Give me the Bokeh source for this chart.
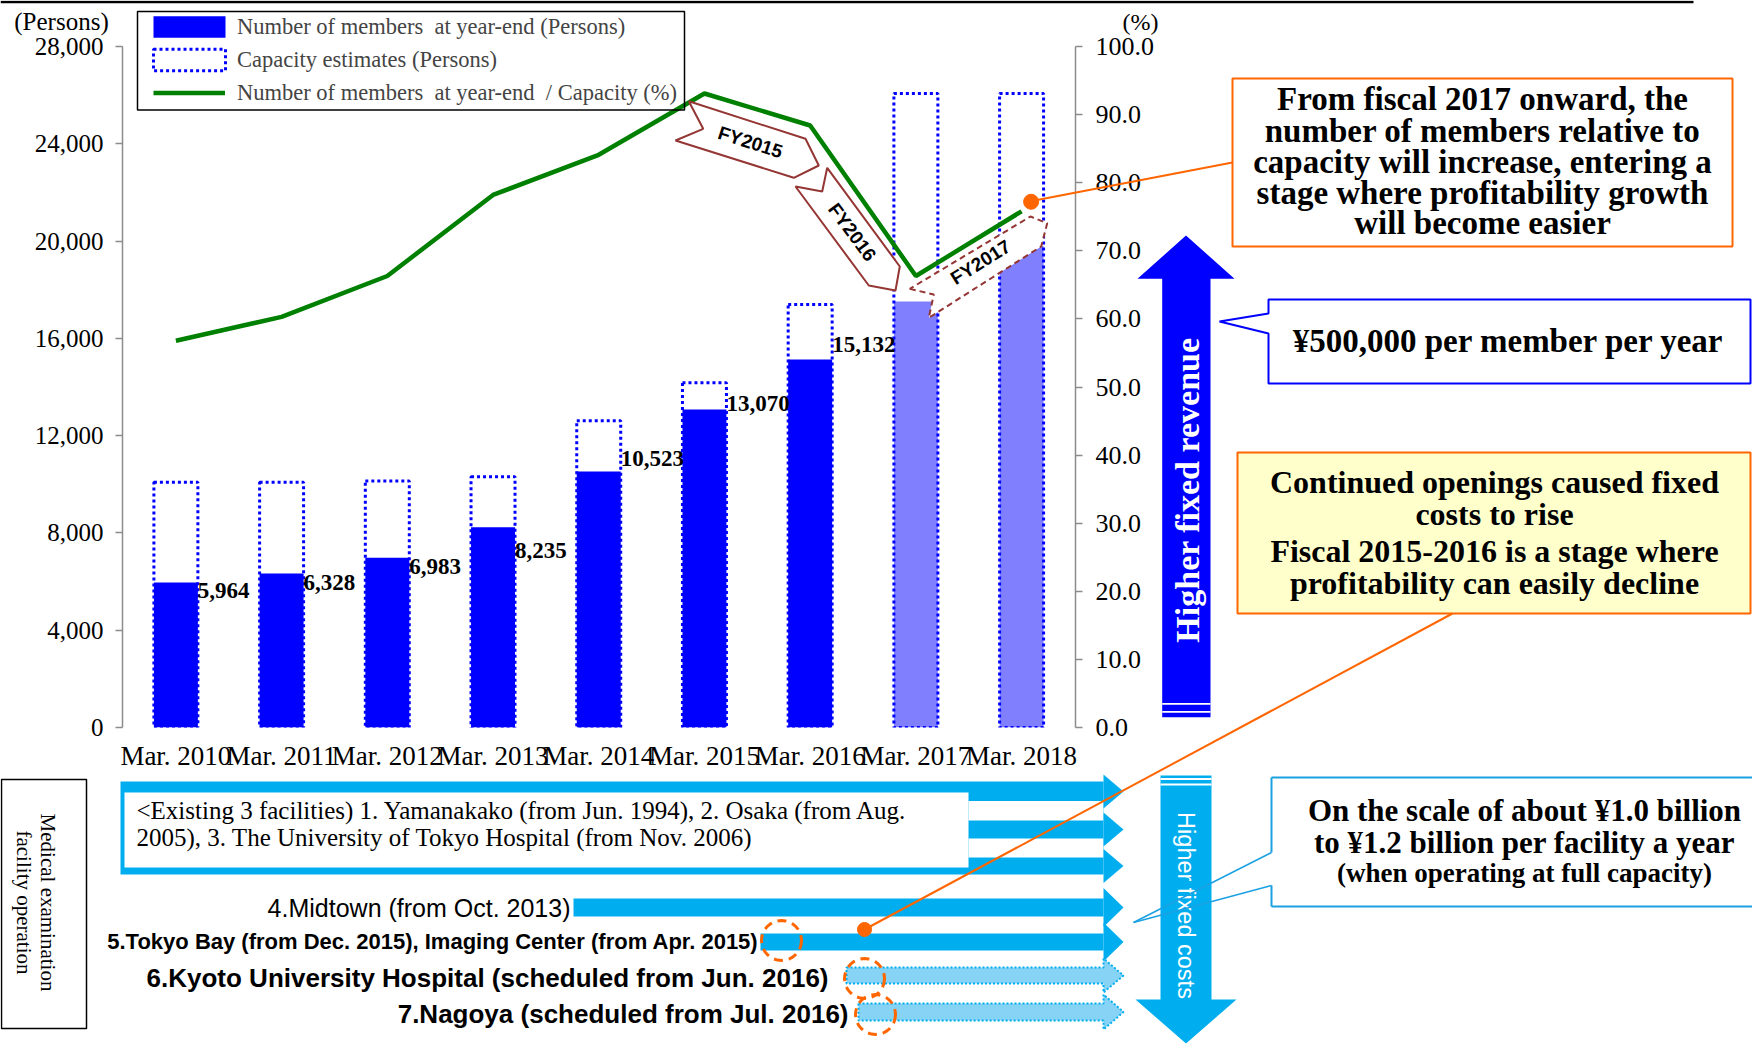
import math
from bokeh.plotting import figure
from bokeh.models import (Range1d, LinearAxis, FixedTicker, NumeralTickFormatter,
                          Legend, LegendItem, ColumnDataSource)
from bokeh.embed import file_html
from bokeh.resources import INLINE
from bokeh.core.properties import value

# ---------------- data ----------------
categories = ["Mar. 2010", "Mar. 2011", "Mar. 2012", "Mar. 2013", "Mar. 2014",
              "Mar. 2015", "Mar. 2016", "Mar. 2017", "Mar. 2018"]
members = [5964, 6328, 6983, 8235, 10523, 13070, 15132, 17520, 19800]
capacity = [10080, 10080, 10130, 10310, 12610, 14170, 17390, 26070, 26070]
ratio_pct = [56.8, 60.3, 66.3, 78.2, 84.1, 93.1, 88.4, 66.3, 75.8]
is_forecast = [False, False, False, False, False, False, False, True, True]
label_dy = [8, 9, 9, 23, -13, -6, -15]          # label nudges (px, down +)
left_ticks = [0, 4000, 8000, 12000, 16000, 20000, 24000, 28000]
right_ticks = [0, 10, 20, 30, 40, 50, 60, 70, 80, 90, 100]

legend_labels = ["Number of members  at year-end (Persons)",
                 "Capacity estimates (Persons)",
                 "Number of members  at year-end  / Capacity (%)"]

# ---------------- layout constants ----------------
W, H = 1752, 1044
FL, FR, FT, FB = 122, 1075, 8, 727
Y0, Y28 = 726.7, 45.7                       # pixel rows of 0 and 28,000
PER_PX = 28000 / (Y0 - Y28)
Y_END = (FB - FT) * PER_PX
P_END = 100 * (FB - FT) / (Y0 - Y28)
BW = 0.416
BLUE = "#0000FF"
LIGHT = "#8080FF"
GREEN = "#008000"
ORANGE = "#FF6600"
BROWN = "#943634"
LB = "#00AEEF"
GRAY = "#8c8c8c"
SERIF = "Liberation Serif"
SANS = "Liberation Sans"

# ---------------- chart figure ----------------
p = figure(width=W, height=H, output_backend="svg", toolbar_location=None, title=None,
           x_range=Range1d(-0.505, 8.51), y_range=Range1d(0, Y_END),
           min_border_left=FL, min_border_right=W - FR, min_border_top=FT,
           min_border_bottom=H - FB, outline_line_color=None,
           background_fill_color="white", border_fill_color="white")
p.xgrid.visible = False
p.ygrid.visible = False
p.extra_y_ranges = {"pct": Range1d(0, P_END)}


def style_axis(ax, size):
    ax.axis_line_color = GRAY
    ax.axis_line_width = 1.5
    ax.major_tick_line_color = GRAY
    ax.major_tick_line_width = 1.5
    ax.major_tick_out = 7
    ax.major_tick_in = 0
    ax.minor_tick_line_color = None
    ax.major_label_text_font = SERIF
    ax.major_label_text_font_size = size
    ax.major_label_text_color = "black"


ya = p.yaxis[0]
style_axis(ya, "25px")
ya.ticker = FixedTicker(ticks=left_ticks)
ya.formatter = NumeralTickFormatter(format="0,0")
ya.major_label_standoff = 12
ya.bounds = (0, 28000)

xa = p.xaxis[0]
style_axis(xa, "27px")
xa.ticker = FixedTicker(ticks=list(range(len(categories))))
xa.major_label_overrides = {i: c for i, c in enumerate(categories)}
xa.axis_line_color = None
xa.major_tick_line_color = None
xa.major_label_standoff = 6

ra = LinearAxis(y_range_name="pct", ticker=FixedTicker(ticks=right_ticks),
                formatter=NumeralTickFormatter(format="0.0"), bounds=(0, 100))
style_axis(ra, "26px")
ra.major_label_standoff = 13
p.add_layout(ra, "right")

idx = list(range(len(categories)))
src = ColumnDataSource(dict(
    x=idx, members=members, capacity=capacity, ratio=ratio_pct,
    color=[LIGHT if f else BLUE for f in is_forecast]))

r_bar = p.vbar(x="x", top="members", width=BW, fill_color="color", line_color=None, source=src)
r_cap = p.vbar(x="x", top="capacity", width=BW, fill_color=None, line_color=BLUE,
               line_width=3, line_dash="3 3", source=src)
r_line = p.line(x="x", y="ratio", line_color=GREEN, line_width=4.5, y_range_name="pct", source=src)

actual = [i for i, f in enumerate(is_forecast) if not f]
lab_src = ColumnDataSource(dict(
    x=[i + BW / 2 for i in actual],
    y=[members[i] for i in actual],
    t=[f"{members[i]:,}" for i in actual],
    dy=label_dy))
p.text(x="x", y="y", text="t", y_offset="dy", source=lab_src,
       text_font=value(SERIF), text_font_style="bold", text_font_size="23px",
       text_align="left", text_baseline="middle", text_color="black")

p.scatter(x=[len(categories) - 1 + 0.09], y=[ratio_pct[-1] + 1.4], size=15,
          fill_color=ORANGE, line_color=ORANGE, y_range_name="pct")

legend_bars = Legend(items=[LegendItem(label=legend_labels[0], renderers=[r_bar], index=0),
                            LegendItem(label=legend_labels[1], renderers=[r_cap], index=0)],
                     location=(22, 654), orientation="vertical", padding=3, spacing=6, margin=0,
                     glyph_width=90, glyph_height=27, label_height=27, label_standoff=3,
                     label_text_font=SERIF, label_text_font_size="22.5px",
                     border_line_color=None, background_fill_alpha=0.0)
legend_line = Legend(items=[LegendItem(label=legend_labels[2], renderers=[r_line])],
                     location=(31, 621), orientation="vertical", padding=3, spacing=0, margin=0,
                     glyph_width=72, glyph_height=27, label_height=27, label_standoff=12,
                     label_text_font=SERIF, label_text_font_size="22.5px",
                     border_line_color=None, background_fill_alpha=0.0)
p.add_layout(legend_bars)
p.add_layout(legend_line)

# ---------------- overlay figure (page-pixel coordinates) ----------------
o = figure(width=W, height=H, output_backend="svg", toolbar_location=None, title=None,
           x_range=Range1d(0, W), y_range=Range1d(H, 0), x_axis_type=None, y_axis_type=None,
           min_border=0, min_border_left=0, min_border_right=0, min_border_top=0,
           min_border_bottom=0, outline_line_color=None,
           background_fill_alpha=0.0, border_fill_alpha=0.0)
o.margin = (-H, 0, 0, 0)


def poly(xs, ys, fill=None, line=None, lw=1.0, dash="solid"):
    o.patch(x=list(xs), y=list(ys),
            fill_color=fill if fill else "white", fill_alpha=1.0 if fill else 0.0,
            line_color=line if line else "white", line_alpha=1.0 if line else 0.0,
            line_width=lw, line_dash=dash)


def rect(x0, y0, x1, y1, fill=None, line=None, lw=1.0, dash="solid"):
    poly([x0, x1, x1, x0], [y0, y0, y1, y1], fill, line, lw, dash)


def seg(x0, y0, x1, y1, color, lw, dash="solid"):
    o.line(x=[x0, x1], y=[y0, y1], line_color=color, line_width=lw, line_dash=dash)


def txt(x, y, s, size, font=SERIF, style="normal", color="black", align="center", angle=0.0):
    o.text(x=[x], y=[y], text=[s], text_font=value(font), text_font_size=value(f"{size}px"),
           text_font_style=style, text_color=color, text_align=align,
           text_baseline="middle", angle=angle)


def ellipse(cx, cy, rx, ry, n=32):
    xs = [cx + rx * math.cos(2 * math.pi * k / n) for k in range(n)]
    ys = [cy + ry * math.sin(2 * math.pi * k / n) for k in range(n)]
    return xs, ys


# top rule
seg(0, 1.5, 1693, 1.5, "black", 2.5)

# axis unit labels
txt(61, 21, "(Persons)", 25)
txt(1140, 21, "(%)", 24)

# legend frame
rect(137, 11, 684, 109.5, line="black", lw=1.5)

# FY arrows
poly([688.3, 702.7, 675, 793.3, 818.3, 805], [100.7, 128.3, 140, 177.3, 165, 138.3],
     fill="white", line=BROWN, lw=2)
txt(750, 141.7, "FY2015", 19, font=SANS, style="bold", angle=-0.31)
poly([795, 821.7, 826.7, 899.3, 895, 868.3], [186, 191, 167.3, 266, 290, 285],
     fill="white", line=BROWN, lw=2)
txt(851.7, 231.7, "FY2016", 19, font=SANS, style="bold", angle=-0.934)
poly([909.3, 933.3, 928.3, 1040.7, 1046.7, 1030], [288.3, 294, 317.3, 246, 222.7, 216],
     fill="white", line=BROWN, lw=2, dash="6 4")
txt(980, 261.7, "FY2017", 19, font=SANS, style="bold", angle=0.56)

# box 1
seg(1030, 200.7, 1232, 162, ORANGE, 2)
rect(1232, 78, 1732, 246, fill="white", line=ORANGE, lw=2)
for yy, s in zip([98, 130, 161, 192, 222],
                 ["From fiscal 2017 onward, the", "number of members relative to",
                  "capacity will increase, entering a", "stage where profitability growth",
                  "will become easier"]):
    txt(1482, yy, s, 33, style="bold")

# higher fixed revenue arrow
poly([1161.7, 1161.7, 1137, 1185.5, 1234, 1210, 1210],
     [716.7, 278.3, 278.3, 235, 278.3, 278.3, 716.7], fill=BLUE)
rect(1161.7, 702.5, 1210, 704.3, fill="white")
rect(1161.7, 710.5, 1210, 712.3, fill="white")
txt(1187, 481, "Higher  fixed  revenue", 34, style="bold", color="white", angle=math.pi / 2)

# blue callout
poly([1268, 1750, 1750, 1268, 1268, 1219, 1268], [299, 299, 383, 383, 333, 321, 313],
     fill="white", line=BLUE, lw=2)
txt(1508, 340, "¥500,000 per member per year", 33, style="bold")

# yellow box
rect(1237, 452, 1750, 613, fill="#FFFFCC", line=ORANGE, lw=2)
for yy, s in zip([481, 513, 550, 582],
                 ["Continued openings caused fixed", "costs to rise",
                  "Fiscal 2015-2016 is a stage where", "profitability can easily decline"]):
    txt(1494, yy, s, 32, style="bold")

# ---------------- bottom section ----------------
rect(1, 779, 86, 1028, line="black", lw=1.5)
txt(47, 902, "Medical examination", 21, angle=-math.pi / 2)
txt(23, 902, "facility operation", 21, angle=-math.pi / 2)

# existing facilities block
rect(120, 781, 1103, 874, fill=LB)
rect(968, 800.5, 1103, 820, fill="white")
rect(968, 838, 1103, 857, fill="white")
for c in [791, 829, 865.5]:
    poly([1103, 1123, 1103], [c - 17, c, c + 17], fill=LB)
rect(124, 792, 968, 867, fill="white")
txt(136, 810, "<Existing  3 facilities) 1. Yamanakako (from Jun. 1994), 2. Osaka (from Aug.",
    25, align="left")
txt(136, 837, "2005), 3. The University of Tokyo Hospital (from Nov. 2006)", 25, align="left")

# rows 4, 5
rect(573, 898, 1103, 916, fill=LB)
poly([1103, 1123, 1103], [887.5, 907, 926.5], fill=LB)
rect(760, 933, 1103, 950, fill=LB)
poly([1103, 1123, 1103], [922, 941.5, 961], fill=LB)
txt(570, 907, "4.Midtown (from Oct. 2013)", 25, font=SANS, align="right")
txt(758, 941, "5.Tokyo Bay (from Dec. 2015), Imaging Center (from Apr. 2015)", 22,
    font=SANS, style="bold", align="right")

# rows 6, 7 (planned, dotted)
poly([846, 1103, 1103, 1123, 1103, 1103, 846], [967, 967, 958, 975, 992, 983, 983],
     fill="#87D3F5", line=LB, lw=2, dash="2 2")
poly([858, 1103, 1103, 1123, 1103, 1103, 858], [1003, 1003, 994, 1011.5, 1029, 1020, 1020],
     fill="#87D3F5", line=LB, lw=2, dash="2 2")
txt(828, 977, "6.Kyoto University Hospital (scheduled from Jun. 2016)", 26,
    font=SANS, style="bold", align="right")
txt(848, 1013, "7.Nagoya (scheduled from Jul. 2016)", 26, font=SANS, style="bold", align="right")

# higher fixed costs arrow
poly([1160, 1211, 1211, 1236, 1185.5, 1135, 1160], [775, 775, 999, 999, 1043, 999, 999], fill=LB)
rect(1160, 777.5, 1211, 779.5, fill="white")
rect(1160, 783, 1211, 785, fill="white")
txt(1185, 905, "Higher fixed costs", 23.5, font=SANS, color="white", angle=-math.pi / 2)

# cyan callout
CY = "#1BA1E2"
rect(1271, 777, 1760, 906, fill="white")
seg(1271, 777, 1760, 777, CY, 2)
seg(1271, 906, 1760, 906, CY, 2)
seg(1271, 777, 1271, 852, CY, 2)
seg(1271, 885, 1271, 906, CY, 2)
seg(1271, 852, 1133, 922, CY, 1.5)
seg(1271, 885, 1133, 922, CY, 1.5)
txt(1524, 810, "On the scale of about ¥1.0 billion", 31, style="bold")
txt(1524, 842, "to ¥1.2 billion per facility a year", 31, style="bold")
txt(1524, 872, "(when operating at full capacity)", 27, style="bold")

# orange dashed rings and connector
for cx, cy in [(781, 940), (864, 978), (875, 1014)]:
    ex, ey = ellipse(cx, cy, 20, 20)
    poly(ex, ey, line=ORANGE, lw=3, dash="9 6")
seg(864, 929, 1452, 613, ORANGE, 2)
dx, dy_ = ellipse(864, 929, 7, 7, 20)
poly(dx, dy_, fill=ORANGE, line=ORANGE, lw=1)

with open("out.html", "w", encoding="utf-8") as f:
    f.write(file_html([p, o], INLINE))
